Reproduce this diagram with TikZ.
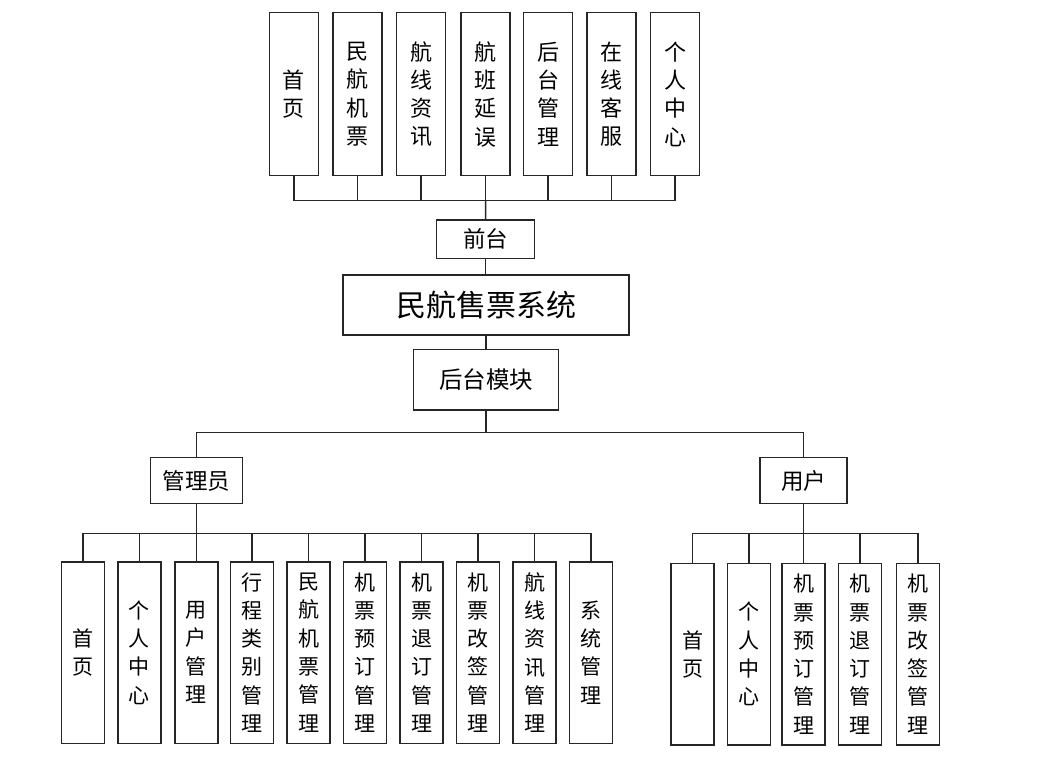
\documentclass[tikz,border=0pt]{standalone}
\usepackage{fontspec}
\newfontfamily\cjk{Noto Sans CJK SC}
\begin{document}
\begin{tikzpicture}[x=1pt,y=-1pt,
  box/.style={draw=black!85,line width=1.5pt,fill=white,inner sep=0pt,align=center},
  vtop/.style={box,minimum width=49pt,minimum height=163pt,font=\cjk\fontsize{22}{28.3}\selectfont},
  vbot/.style={box,minimum width=43pt,minimum height=181.5pt,font=\cjk\fontsize{21}{28.3}\selectfont},
  hbox/.style={box,font=\cjk\fontsize{22.5}{26}\selectfont},
  link/.style={draw=black!85,line width=1.5pt}]
\useasboundingbox (0,0) rectangle (1063,765);
% top row
\node[vtop] (t1) at (293.8,94.2) {首\\页};
\node[vtop] (t2) at (357.3,94.2) {民\\航\\机\\票};
\node[vtop] (t3) at (421,94.2) {航\\线\\资\\讯};
\node[vtop] (t4) at (485.7,94.2) {航\\班\\延\\误};
\node[vtop] (t5) at (548,94.2) {后\\台\\管\\理};
\node[vtop] (t6) at (611.7,94.2) {在\\线\\客\\服};
\node[vtop] (t7) at (675.2,94.2) {个\\人\\中\\心};
% middle
\node[hbox,minimum width=97.6pt,minimum height=38.3pt] (qt) at (485.5,239.2) {前台};
\node[box,minimum width=286.3pt,minimum height=60.3pt,font=\cjk\fontsize{30}{34}\selectfont] (sys) at (486,305) {民航售票系统};
\node[hbox,minimum width=145pt,minimum height=60.7pt,font=\cjk\fontsize{23.5}{27}\selectfont] (ht) at (486,379.7) {后台模块};
\node[hbox,minimum width=92pt,minimum height=46pt] (adm) at (196.3,480.7) {管理员};
\node[hbox,minimum width=87pt,minimum height=46pt] (usr) at (803.5,480.7) {用户};
% bottom left
\node[vbot] (a1) at (82.8,652.5) {首\\页};
\node[vbot] (a2) at (139.4,652.5) {个\\人\\中\\心};
\node[vbot] (a3) at (196.4,652.5) {用\\户\\管\\理};
\node[vbot] (a4) at (252,652.5) {行\\程\\类\\别\\管\\理};
\node[vbot] (a5) at (308.6,652.5) {民\\航\\机\\票\\管\\理};
\node[vbot] (a6) at (365,652.5) {机\\票\\预\\订\\管\\理};
\node[vbot] (a7) at (421.7,652.5) {机\\票\\退\\订\\管\\理};
\node[vbot] (a8) at (478,652.5) {机\\票\\改\\签\\管\\理};
\node[vbot] (a9) at (534.6,652.5) {航\\线\\资\\讯\\管\\理};
\node[vbot] (a10) at (591,652.5) {系\\统\\管\\理};
% bottom right
\node[vbot] (u1) at (692.7,654.2) {首\\页};
\node[vbot] (u2) at (749.2,654.2) {个\\人\\中\\心};
\node[vbot] (u3) at (803.5,654.2) {机\\票\\预\\订\\管\\理};
\node[vbot] (u4) at (859.8,654.2) {机\\票\\退\\订\\管\\理};
\node[vbot] (u5) at (918,654.2) {机\\票\\改\\签\\管\\理};
% bus coordinates
\coordinate (tb) at (485.7,200.3);
\coordinate (mb) at (486,432.5);
\coordinate (ab) at (196.3,533.5);
\coordinate (ub) at (803.5,533.5);
% connectors
\foreach \i in {1,...,7} {\draw[link] (t\i.south) |- (tb);}
\draw[link] (tb) -- (qt.north);
\draw[link] (qt.south) -- (qt.south |- sys.north);
\draw[link] (sys.south -| ht.north) -- (ht.north);
\draw[link] (ht.south) -- (mb);
\draw[link] (adm.north) |- (mb) -| (usr.north);
\draw[link] (adm.south) -- (ab);
\draw[link] (usr.south) -- (ub);
\foreach \i in {1,...,10} {\draw[link] (a\i.north) |- (ab);}
\foreach \i in {1,...,5} {\draw[link] (u\i.north) |- (ub);}
\end{tikzpicture}
\end{document}
